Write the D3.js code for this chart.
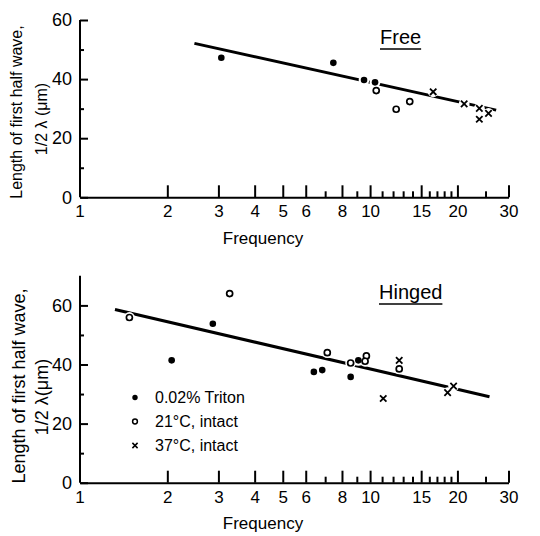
<!DOCTYPE html>
<html>
<head>
<meta charset="utf-8">
<script src="https://cdn.jsdelivr.net/npm/d3@7"></script>
<style>
  html, body { margin: 0; padding: 0; background: #fff; }
  svg { display: block; }
  text { font-family: "Liberation Sans", Arial, sans-serif; fill: #000; }
</style>
</head>
<body>
<svg id="chart" width="540" height="536"></svg>
<script>
// Wavelength of the first half wave vs beat frequency (log scale)

// Frequency axis
const xMajorTicks = [2, 3, 4, 5, 6, 8, 10, 15, 20, 30];
const xMinorTicks = [7, 9, 11, 12, 13, 14, 16, 17, 18, 19, 25];
const xTickLabels = ["2", "3", "4", "5", "6", "8", "10", "15", "20", "30"];

// Free panel: [frequency, half wavelength in µm]
const freeTriton = [[3.07, 47.2], [7.47, 45.5], [9.53, 39.7], [10.4, 38.9]];
const freeCool   = [[10.5, 36.1], [12.3, 29.8], [13.7, 32.4]];
const freeWarm   = [[16.5, 35.7], [21.1, 31.6], [23.8, 30.1], [23.8, 26.4], [25.6, 28.4]];
const freeFit    = [[2.48, 52.1], [27.2, 29.5]];
const freeYMajor = [0, 20, 40, 60];
const freeYMinor = [10, 30, 50];

// Hinged panel
const hingedTriton = [[2.07, 41.4], [2.87, 53.8], [6.40, 37.5], [6.84, 38.1], [8.57, 35.8], [9.11, 41.4]];
const hingedCool   = [[1.48, 55.9], [3.28, 64.0], [7.12, 44.0], [8.57, 40.5], [9.71, 42.9], [9.61, 41.1], [12.6, 38.5]];
const hingedWarm   = [[12.6, 41.4], [11.1, 28.5], [18.5, 30.5], [19.4, 32.7]];
const hingedFit    = [[1.32, 58.6], [25.8, 29.1]];
const hingedYMajor = [0, 20, 40, 60];
const hingedYMinor = [10, 30, 50];

const legendLabels = ["0.02% Triton", "21°C, intact", "37°C, intact"];

const svg = d3.select("#chart");

const x = d3.scaleLog().domain([1, 30]).range([80, 508.5]);

function drawMarkers(g, y, data, kind, halo) {
  const sel = g.append("g");
  data.forEach(([fx, fy]) => {
    const cx = x(fx), cy = y(fy);
    if (halo) {
      sel.append("circle").attr("cx", cx).attr("cy", cy).attr("r", 5.4).attr("fill", "#fff");
      return;
    }
    if (kind === "filled") {
      sel.append("circle").attr("cx", cx).attr("cy", cy).attr("r", 3.3).attr("fill", "#000");
    } else if (kind === "open") {
      sel.append("circle").attr("cx", cx).attr("cy", cy).attr("r", 3.0)
        .attr("fill", "#fff").attr("stroke", "#000").attr("stroke-width", 1.7);
    } else {
      const s = 3.2;
      sel.append("path")
        .attr("d", `M${cx - s},${cy - s}L${cx + s},${cy + s}M${cx + s},${cy - s}L${cx - s},${cy + s}`)
        .attr("stroke", "#000").attr("stroke-width", 1.8).attr("fill", "none");
    }
  });
}

function drawPanel(p) {
  const g = svg.append("g");
  const y = d3.scaleLinear().domain([0, p.yMax]).range([p.y0, p.y0 - p.yMax * 2.955]);

  // x axis: labelled major ticks and short minor ticks, pointing inward
  g.append("g").attr("transform", `translate(0,${p.y0})`)
    .call(d3.axisBottom(x).tickValues(xMajorTicks).tickSize(-12).tickSizeOuter(0).tickPadding(8)
      .tickFormat((d, i) => xTickLabels[i]))
    .call(a => a.selectAll("text").style("font-size", "17px").style("font-family", "Liberation Sans, Arial, sans-serif"));
  g.append("g").attr("transform", `translate(0,${p.y0})`)
    .call(d3.axisBottom(x).tickValues(xMinorTicks).tickSize(-6).tickFormat(""))
    .call(a => a.select(".domain").remove());
  // label for the leftmost decade
  g.append("text").attr("x", x(1)).attr("y", p.y0 + 8).attr("dy", "0.71em")
    .attr("text-anchor", "middle").style("font-size", "17px").text("1");

  // y axis
  g.append("g").attr("transform", `translate(${x(1)},0)`)
    .call(d3.axisLeft(y).tickValues(p.yMajor).tickSize(-8).tickSizeOuter(0).tickPadding(8))
    .call(a => a.select(".domain").attr("d", `M0,${y(0)}V${y(p.yMax)}`))
    .call(a => a.selectAll("text").style("font-size", "18px").style("font-family", "Liberation Sans, Arial, sans-serif"));
  g.append("g").attr("transform", `translate(${x(1)},0)`)
    .call(d3.axisLeft(y).tickValues(p.yMinor).tickSize(-4).tickFormat(""))
    .call(a => a.select(".domain").remove());

  g.selectAll(".domain, .tick line").attr("stroke", "#000").attr("stroke-width", 2);

  // fitted line, broken around the points that sit on it
  g.append("line")
    .attr("x1", x(p.fit[0][0])).attr("y1", y(p.fit[0][1]))
    .attr("x2", x(p.fit[1][0])).attr("y2", y(p.fit[1][1]))
    .attr("stroke", "#000").attr("stroke-width", 3);
  [p.triton, p.cool, p.warm].forEach(d => drawMarkers(g, y, d, null, true));
  drawMarkers(g, y, p.triton, "filled");
  drawMarkers(g, y, p.cool, "open");
  drawMarkers(g, y, p.warm, "x");

  // panel title, underlined
  const t = g.append("text").attr("x", p.titleX).attr("y", p.titleY)
    .style("font-size", "20px").text(p.title);
  const w = t.node().getComputedTextLength();
  g.append("line").attr("x1", p.titleX).attr("x2", p.titleX + w)
    .attr("y1", p.titleY + 5).attr("y2", p.titleY + 5)
    .attr("stroke", "#000").attr("stroke-width", 1.5);

  // axis titles
  g.append("text").attr("x", 263).attr("y", p.y0 + 41).attr("text-anchor", "middle")
    .attr("dominant-baseline", "central").style("font-size", "17px").text("Frequency");
  g.append("text").attr("transform", `translate(${p.yl1[0]},${p.yl1[1]}) rotate(-90)`)
    .attr("text-anchor", "middle").attr("dominant-baseline", "central")
    .style("font-size", p.ylSize + "px").text("Length of first half wave,");
  g.append("text").attr("transform", `translate(${p.yl2[0]},${p.yl2[1]}) rotate(-90)`)
    .attr("text-anchor", "middle").attr("dominant-baseline", "central")
    .style("font-size", p.ylSize + "px").text(p.yl2Text);

  return { g, y };
}

drawPanel({
  y0: 197.3, yMax: 60, yMajor: freeYMajor, yMinor: freeYMinor,
  triton: freeTriton, cool: freeCool, warm: freeWarm, fit: freeFit,
  title: "Free", titleX: 380, titleY: 44,
  yl1: [16, 112], yl2: [41, 119], yl2Text: "1/2 λ (μm)", ylSize: 16
});

drawPanel({
  y0: 482.7, yMax: 70, yMajor: hingedYMajor, yMinor: hingedYMinor,
  triton: hingedTriton, cool: hingedCool, warm: hingedWarm, fit: hingedFit,
  title: "Hinged", titleX: 379, titleY: 299,
  yl1: [19, 386], yl2: [42, 397], yl2Text: "1/2 λ(μm)", ylSize: 18
});

// legend
const legend = svg.append("g");
const legendKinds = ["filled", "open", "x"];
legendLabels.forEach((label, i) => {
  const ly = 397.5 + i * 24;
  if (legendKinds[i] === "filled") {
    legend.append("circle").attr("cx", 135).attr("cy", ly).attr("r", 2.7).attr("fill", "#000");
  } else if (legendKinds[i] === "open") {
    legend.append("circle").attr("cx", 135).attr("cy", ly).attr("r", 2.4)
      .attr("fill", "#fff").attr("stroke", "#000").attr("stroke-width", 1.5);
  } else {
    const s = 2.6;
    legend.append("path")
      .attr("d", `M${135 - s},${ly - s}L${135 + s},${ly + s}M${135 + s},${ly - s}L${135 - s},${ly + s}`)
      .attr("stroke", "#000").attr("stroke-width", 1.5);
  }
  legend.append("text").attr("x", 155).attr("y", ly).attr("dominant-baseline", "central")
    .style("font-size", "16px").text(label);
});
</script>
</body>
</html>
